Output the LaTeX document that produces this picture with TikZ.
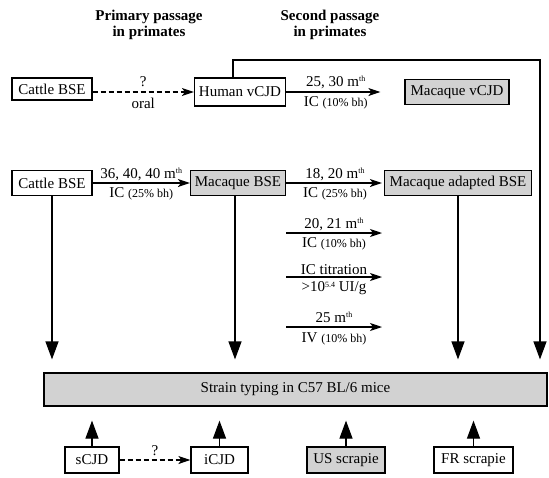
\documentclass[tikz,border=0pt]{standalone}
\usepackage{fontspec}
\setmainfont{Liberation Serif}
\usetikzlibrary{arrows.meta}

\tikzset{
	box/.style={draw, line width=1.2pt, minimum height=25pt, inner sep=2pt, font=\fontsize{15}{17}\selectfont},
	greybox/.style={box, fill=gray!35},
	arr/.style={line width=1.2pt, -{Stealth[length=12pt,width=8pt,inset=3pt]}},
	dasharr/.style={arr, dash pattern=on 5pt off 3pt},
	downarr/.style={line width=1.2pt, -{Triangle[length=18pt,width=13pt]}, shorten >=13pt},
	uparr/.style={line width=1.2pt, -{Triangle[length=18pt,width=13pt]}, shorten >=14pt},
	lab/.style={font=\fontsize{15}{17}\selectfont, inner sep=1pt},
	head/.style={font=\bfseries\fontsize{15}{16}\selectfont, align=center},
}
\newcommand{\sm}[1]{{\fontsize{12}{13}\selectfont #1}}
\newcommand{\tinysup}[1]{\raisebox{4.5pt}{\fontsize{8}{8}\selectfont #1}}
\newcommand{\mth}{m\tinysup{th}}

\begin{document}
\begin{tikzpicture}[x=1pt, y=-1pt]
	\useasboundingbox (0,0) rectangle (549,477);
	% headings
	\node[head] (hprim) at (149,25) {Primary passage\\in primates};
	\node[head] (hsec) at (330,25) {Second passage\\in primates};

	% first row
	\node[box, minimum width=80pt, minimum height=22pt] (cattlea) at (52,89) {Cattle BSE};
	\node[box, minimum width=91pt, minimum height=28pt] (hvcjd) at (240,92) {Human vCJD};
	\node[greybox, minimum width=104pt] (mvcjd) at (457,92) {Macaque vCJD};
	% second row
	\node[box, minimum width=80pt] (cattleb) at (52,183) {Cattle BSE};
	\node[greybox, minimum width=95pt] (mbse) at (238,183) {Macaque BSE};
	\node[greybox, minimum width=147pt] (mabse) at (458,183) {Macaque adapted BSE};
	% mice
	\node[greybox, minimum width=503pt, minimum height=33pt] (strain) at (295.5,389.5) {Strain typing in C57 BL/6 mice};
	% bottom row
	\node[box, minimum width=54pt, minimum height=26pt] (scjd) at (92,460) {sCJD};
	\node[box, minimum width=57pt, minimum height=26pt] (icjd) at (219.5,460) {iCJD};
	\node[greybox, minimum width=78pt, minimum height=26pt] (usscr) at (346,460) {US scrapie};
	\node[box, minimum width=79pt, minimum height=26pt] (frscr) at (473.5,460) {FR scrapie};

	% free arrows
	\coordinate (a1) at (286,233);
	\coordinate (b1) at (382,233);
	\coordinate (a2) at (286,277);
	\coordinate (b2) at (382,277);
	\coordinate (a3) at (286,327);
	\coordinate (b3) at (382,327);
	\coordinate (corner) at (540,60);

	% cattle -> human
	\draw [dasharr] (cattlea.east |- hvcjd) -- (hvcjd.west)
		node[lab, midway, above=4pt] {?} node[lab, midway, below=4pt] {oral};
	% human -> macaque
	\draw [arr, shorten >=24pt] (hvcjd.east) -- (mvcjd.west)
		node[lab, pos=0.42, above=2pt] {25, 30 \mth} node[lab, pos=0.42, below=3pt] {IC \sm{(10\% bh)}};
	% cattle -> macaque
	\draw [arr] (cattleb.east) -- (mbse.west)
		node[lab, midway, above=1pt] {36, 40, 40 \mth} node[lab, midway, below=3pt] {IC \sm{(25\% bh)}};
	% macaque -> adapted
	\draw [arr, shorten >=2pt] (mbse.east) -- (mabse.west)
		node[lab, midway, above=1pt] {18, 20 \mth} node[lab, midway, below=3pt] {IC \sm{(25\% bh)}};
	\draw [arr] (a1) -- (b1)
		node[lab, midway, above=1pt] {20, 21 \mth} node[lab, midway, below=3pt] {IC \sm{(10\% bh)}};
	\draw [arr] (a2) -- (b2)
		node[lab, midway, above=1pt] {IC titration} node[lab, midway, below=3pt] {>10\tinysup{5.4} UI/g};
	\draw [arr] (a3) -- (b3)
		node[lab, midway, above=3pt] {25 \mth} node[lab, midway, below=4pt] {IV \sm{(10\% bh)}};

	% down to mice
	\draw [downarr] (cattleb.south) -- (cattleb.south |- strain.north);
	\draw [downarr] ([xshift=-3pt]mbse.south) -- ([xshift=-3pt]mbse.south |- strain.north);
	\draw [downarr] (mabse.south) -- (mabse.south |- strain.north);
	\draw [downarr] ([xshift=-7pt]hvcjd.north) |- (corner) -- (corner |- strain.north);

	% up to mice
	\draw [uparr] (scjd.north) -- (scjd.north |- strain.south);
	\draw [uparr] (icjd.north) -- (icjd.north |- strain.south);
	\draw [uparr] (usscr.north) -- (usscr.north |- strain.south);
	\draw [uparr] (frscr.north) -- (frscr.north |- strain.south);
	\draw [dasharr] (scjd.east) -- (icjd.west) node[lab, midway, above=3pt] {?};
\end{tikzpicture}
\end{document}
